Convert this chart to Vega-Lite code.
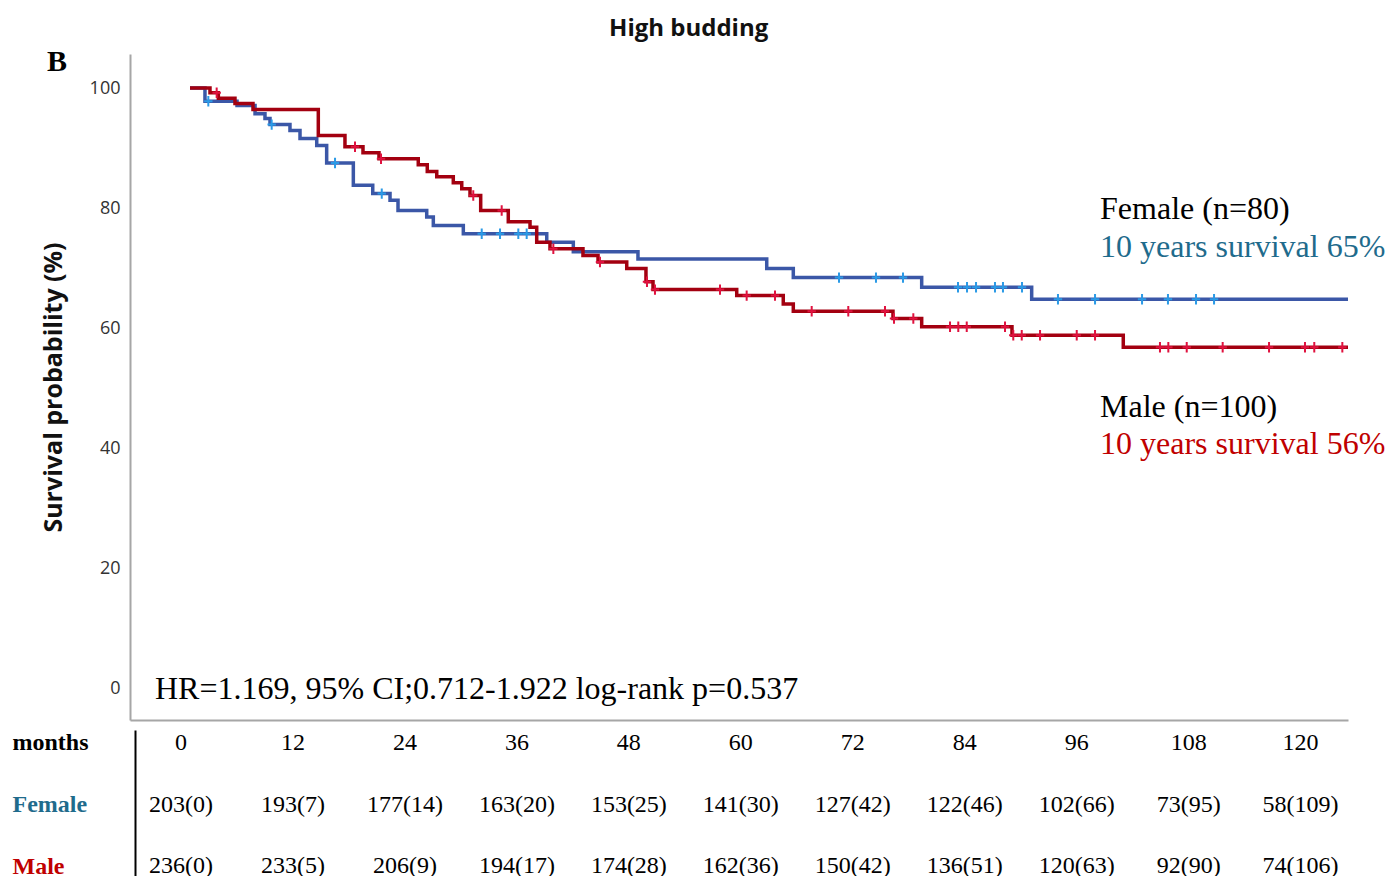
{
  "$schema": "https://vega.github.io/schema/vega-lite/v6.json",
  "background": "white",
  "padding": {"left": 12, "top": 17, "right": 5, "bottom": 0},
  "title": {
    "text": "High budding",
    "font": "Open Sans",
    "fontSize": 24,
    "fontWeight": "bold",
    "color": "#111111",
    "anchor": "middle",
    "dx": -10,
    "offset": 6
  },
  "datasets": {
    "km": [
      {"sex": "Female", "month": 0, "surv": 100},
      {"sex": "Female", "month": 1.61, "surv": 97.8},
      {"sex": "Female", "month": 5.06, "surv": 97.1},
      {"sex": "Female", "month": 7.0, "surv": 95.7},
      {"sex": "Female", "month": 8.07, "surv": 94.9},
      {"sex": "Female", "month": 8.61, "surv": 93.9},
      {"sex": "Female", "month": 10.76, "surv": 92.9},
      {"sex": "Female", "month": 11.84, "surv": 91.6},
      {"sex": "Female", "month": 13.64, "surv": 90.4},
      {"sex": "Female", "month": 14.71, "surv": 87.5},
      {"sex": "Female", "month": 17.58, "surv": 83.8},
      {"sex": "Female", "month": 19.67, "surv": 82.4},
      {"sex": "Female", "month": 21.53, "surv": 81.3},
      {"sex": "Female", "month": 22.39, "surv": 79.6},
      {"sex": "Female", "month": 25.48, "surv": 78.5},
      {"sex": "Female", "month": 26.19, "surv": 77.1},
      {"sex": "Female", "month": 29.42, "surv": 75.7},
      {"sex": "Female", "month": 38.4, "surv": 74.3},
      {"sex": "Female", "month": 41.26, "surv": 72.7},
      {"sex": "Female", "month": 48.22, "surv": 71.5},
      {"sex": "Female", "month": 62.08, "surv": 69.9},
      {"sex": "Female", "month": 64.94, "surv": 68.4},
      {"sex": "Female", "month": 78.76, "surv": 66.8},
      {"sex": "Female", "month": 90.6, "surv": 64.8},
      {"sex": "Female", "month": 124.65, "surv": 64.8},
      {"sex": "Male", "month": 0, "surv": 100},
      {"sex": "Male", "month": 2.15, "surv": 99.2},
      {"sex": "Male", "month": 3.05, "surv": 98.3},
      {"sex": "Male", "month": 4.84, "surv": 97.4},
      {"sex": "Male", "month": 6.78, "surv": 96.4},
      {"sex": "Male", "month": 13.81, "surv": 92.1},
      {"sex": "Male", "month": 16.68, "surv": 90.2},
      {"sex": "Male", "month": 18.62, "surv": 89.2},
      {"sex": "Male", "month": 20.34, "surv": 88.2},
      {"sex": "Male", "month": 24.57, "surv": 87.2},
      {"sex": "Male", "month": 25.54, "surv": 86.1},
      {"sex": "Male", "month": 26.56, "surv": 85.2},
      {"sex": "Male", "month": 28.34, "surv": 84.2},
      {"sex": "Male", "month": 29.25, "surv": 83.2},
      {"sex": "Male", "month": 30.14, "surv": 82.1},
      {"sex": "Male", "month": 31.29, "surv": 79.6},
      {"sex": "Male", "month": 34.26, "surv": 77.7},
      {"sex": "Male", "month": 36.6, "surv": 76.8},
      {"sex": "Male", "month": 37.32, "surv": 74.3},
      {"sex": "Male", "month": 38.75, "surv": 73.2},
      {"sex": "Male", "month": 42.3, "surv": 72.1},
      {"sex": "Male", "month": 43.92, "surv": 71.0},
      {"sex": "Male", "month": 47.01, "surv": 69.9},
      {"sex": "Male", "month": 49.08, "surv": 67.7},
      {"sex": "Male", "month": 49.84, "surv": 66.4},
      {"sex": "Male", "month": 58.85, "surv": 65.4},
      {"sex": "Male", "month": 63.86, "surv": 64.0},
      {"sex": "Male", "month": 64.94, "surv": 62.8},
      {"sex": "Male", "month": 75.67, "surv": 61.6},
      {"sex": "Male", "month": 78.76, "surv": 60.2},
      {"sex": "Male", "month": 88.48, "surv": 58.8},
      {"sex": "Male", "month": 100.46, "surv": 56.8},
      {"sex": "Male", "month": 124.65, "surv": 56.8}
    ],
    "censor": [
      {"sex": "Female", "month": 1.97, "surv": 97.8},
      {"sex": "Female", "month": 8.79, "surv": 93.9},
      {"sex": "Female", "month": 15.61, "surv": 87.5},
      {"sex": "Female", "month": 20.64, "surv": 82.4},
      {"sex": "Female", "month": 31.4, "surv": 75.7},
      {"sex": "Female", "month": 33.37, "surv": 75.7},
      {"sex": "Female", "month": 35.34, "surv": 75.7},
      {"sex": "Female", "month": 36.24, "surv": 75.7},
      {"sex": "Female", "month": 69.86, "surv": 68.4},
      {"sex": "Female", "month": 73.84, "surv": 68.4},
      {"sex": "Female", "month": 76.75, "surv": 68.4},
      {"sex": "Female", "month": 82.67, "surv": 66.8},
      {"sex": "Female", "month": 83.64, "surv": 66.8},
      {"sex": "Female", "month": 84.61, "surv": 66.8},
      {"sex": "Female", "month": 86.65, "surv": 66.8},
      {"sex": "Female", "month": 87.51, "surv": 66.8},
      {"sex": "Female", "month": 89.56, "surv": 66.8},
      {"sex": "Female", "month": 93.43, "surv": 64.8},
      {"sex": "Female", "month": 97.42, "surv": 64.8},
      {"sex": "Female", "month": 102.48, "surv": 64.8},
      {"sex": "Female", "month": 105.27, "surv": 64.8},
      {"sex": "Female", "month": 108.29, "surv": 64.8},
      {"sex": "Female", "month": 110.23, "surv": 64.8},
      {"sex": "Male", "month": 2.87, "surv": 99.2},
      {"sex": "Male", "month": 17.76, "surv": 90.2},
      {"sex": "Male", "month": 20.56, "surv": 88.2},
      {"sex": "Male", "month": 30.49, "surv": 82.1},
      {"sex": "Male", "month": 33.55, "surv": 79.6},
      {"sex": "Male", "month": 39.11, "surv": 73.2},
      {"sex": "Male", "month": 44.13, "surv": 71.0},
      {"sex": "Male", "month": 49.19, "surv": 67.7},
      {"sex": "Male", "month": 50.05, "surv": 66.4},
      {"sex": "Male", "month": 57.05, "surv": 66.4},
      {"sex": "Male", "month": 59.92, "surv": 65.4},
      {"sex": "Male", "month": 62.97, "surv": 65.4},
      {"sex": "Male", "month": 66.92, "surv": 62.8},
      {"sex": "Male", "month": 70.86, "surv": 62.8},
      {"sex": "Male", "month": 74.81, "surv": 62.8},
      {"sex": "Male", "month": 75.78, "surv": 61.6},
      {"sex": "Male", "month": 77.86, "surv": 61.6},
      {"sex": "Male", "month": 81.81, "surv": 60.2},
      {"sex": "Male", "month": 82.7, "surv": 60.2},
      {"sex": "Male", "month": 83.61, "surv": 60.2},
      {"sex": "Male", "month": 87.73, "surv": 60.2},
      {"sex": "Male", "month": 88.62, "surv": 58.8},
      {"sex": "Male", "month": 89.53, "surv": 58.8},
      {"sex": "Male", "month": 91.5, "surv": 58.8},
      {"sex": "Male", "month": 95.45, "surv": 58.8},
      {"sex": "Male", "month": 97.42, "surv": 58.8},
      {"sex": "Male", "month": 104.41, "surv": 56.8},
      {"sex": "Male", "month": 105.31, "surv": 56.8},
      {"sex": "Male", "month": 107.29, "surv": 56.8},
      {"sex": "Male", "month": 111.16, "surv": 56.8},
      {"sex": "Male", "month": 116.15, "surv": 56.8},
      {"sex": "Male", "month": 120.02, "surv": 56.8},
      {"sex": "Male", "month": 121.02, "surv": 56.8},
      {"sex": "Male", "month": 124.04, "surv": 56.8}
    ],
    "notes": [
      {"note": "Female (n=80)", "kind": "head", "month": 97.96, "surv": 79.83},
      {"note": "10 years survival 65%", "kind": "Female", "month": 97.96, "surv": 73.5},
      {"note": "Male (n=100)", "kind": "head", "month": 97.96, "surv": 46.83},
      {"note": "10 years survival 56%", "kind": "Male", "month": 97.96, "surv": 40.67},
      {"note": "HR=1.169, 95% CI;0.712-1.922 log-rank p=0.537", "kind": "head", "month": -3.77, "surv": -0.17}
    ],
    "risk": [
      {"row": "months", "month": 0, "count": "0"},
      {"row": "months", "month": 12, "count": "12"},
      {"row": "months", "month": 24, "count": "24"},
      {"row": "months", "month": 36, "count": "36"},
      {"row": "months", "month": 48, "count": "48"},
      {"row": "months", "month": 60, "count": "60"},
      {"row": "months", "month": 72, "count": "72"},
      {"row": "months", "month": 84, "count": "84"},
      {"row": "months", "month": 96, "count": "96"},
      {"row": "months", "month": 108, "count": "108"},
      {"row": "months", "month": 120, "count": "120"},
      {"row": "Female", "month": 0, "count": "203(0)"},
      {"row": "Female", "month": 12, "count": "193(7)"},
      {"row": "Female", "month": 24, "count": "177(14)"},
      {"row": "Female", "month": 36, "count": "163(20)"},
      {"row": "Female", "month": 48, "count": "153(25)"},
      {"row": "Female", "month": 60, "count": "141(30)"},
      {"row": "Female", "month": 72, "count": "127(42)"},
      {"row": "Female", "month": 84, "count": "122(46)"},
      {"row": "Female", "month": 96, "count": "102(66)"},
      {"row": "Female", "month": 108, "count": "73(95)"},
      {"row": "Female", "month": 120, "count": "58(109)"},
      {"row": "Male", "month": 0, "count": "236(0)"},
      {"row": "Male", "month": 12, "count": "233(5)"},
      {"row": "Male", "month": 24, "count": "206(9)"},
      {"row": "Male", "month": 36, "count": "194(17)"},
      {"row": "Male", "month": 48, "count": "174(28)"},
      {"row": "Male", "month": 60, "count": "162(36)"},
      {"row": "Male", "month": 72, "count": "150(42)"},
      {"row": "Male", "month": 84, "count": "136(51)"},
      {"row": "Male", "month": 96, "count": "120(63)"},
      {"row": "Male", "month": 108, "count": "92(90)"},
      {"row": "Male", "month": 120, "count": "74(106)"}
    ]
  },
  "resolve": {"scale": {"x": "independent", "y": "independent"}},
  "spacing": 10,
  "vconcat": [
    {
      "width": 1218,
      "height": 666,
      "layer": [
        {
          "data": {"name": "km"},
          "mark": {"type": "line", "interpolate": "step-after", "strokeWidth": 3.5},
          "encoding": {
            "x": {
              "field": "month",
              "type": "quantitative",
              "scale": {"domain": [-6.46, 124.65], "nice": false, "zero": false},
              "axis": {"labels": false, "ticks": false, "grid": false, "title": null, "domainColor": "#a6a6a6", "domainWidth": 2}
            },
            "y": {
              "field": "surv",
              "type": "quantitative",
              "scale": {"domain": [-5.33, 105.67], "nice": false, "zero": false},
              "axis": {
                "values": [0, 20, 40, 60, 80, 100],
                "grid": false,
                "ticks": false,
                "domainColor": "#a6a6a6",
                "domainWidth": 2,
                "labelFont": "Open Sans",
                "labelFontSize": 18,
                "labelColor": "#333333",
                "labelPadding": 10,
                "title": "Survival probability (%)",
                "titleFont": "Open Sans",
                "titleFontSize": 25,
                "titleFontWeight": "bold",
                "titleColor": "#111111",
                "titlePadding": 23
              }
            },
            "color": {
              "field": "sex",
              "type": "nominal",
              "scale": {"domain": ["Female", "Male"], "range": ["#3b57a7", "#a30010"]},
              "legend": null
            }
          }
        },
        {
          "data": {"name": "censor"},
          "mark": {"type": "point", "shape": "M0,-1V1M-0.8,0H0.8", "filled": false, "strokeWidth": 2, "size": 110, "opacity": 1},
          "encoding": {
            "x": {"field": "month", "type": "quantitative"},
            "y": {"field": "surv", "type": "quantitative"},
            "stroke": {
              "field": "sex",
              "type": "nominal",
              "scale": {"domain": ["Female", "Male"], "range": ["#2b9ae6", "#e0123f"]},
              "legend": null
            }
          }
        },
        {
          "data": {"name": "notes"},
          "mark": {"type": "text", "font": "Liberation Serif", "fontSize": 32, "align": "left", "baseline": "middle"},
          "encoding": {
            "x": {"field": "month", "type": "quantitative"},
            "y": {"field": "surv", "type": "quantitative"},
            "text": {"field": "note"},
            "fill": {
              "field": "kind",
              "type": "nominal",
              "scale": {"domain": ["head", "Female", "Male"], "range": ["#000000", "#1f6b8c", "#c00000"]},
              "legend": null
            }
          }
        },
        {
          "data": {"values": [{"panel": "B", "month": -15.39, "surv": 104.33}]},
          "mark": {"type": "text", "font": "Liberation Serif", "fontSize": 30, "fontWeight": "bold", "align": "left", "baseline": "middle", "color": "#000000"},
          "encoding": {
            "x": {"field": "month", "type": "quantitative"},
            "y": {"field": "surv", "type": "quantitative"},
            "text": {"field": "panel"}
          }
        }
      ]
    },
    {
      "width": 1218,
      "height": 149,
      "data": {"name": "risk"},
      "mark": {"type": "text", "font": "Liberation Serif", "fontSize": 24, "align": "center", "baseline": "middle", "color": "#000000"},
      "encoding": {
        "x": {
          "field": "month",
          "type": "quantitative",
          "scale": {"domain": [-5.47, 125.08], "nice": false, "zero": false},
          "axis": null
        },
        "y": {
          "field": "row",
          "type": "nominal",
          "scale": {"type": "point", "domain": ["months", "Female", "Male"], "padding": 0.21},
          "axis": {
            "title": null,
            "domain": true,
            "domainColor": "#000000",
            "domainWidth": 2,
            "ticks": false,
            "tickSize": 0,
            "offset": -5,
            "labelAlign": "left",
            "labelBaseline": "middle",
            "labelPadding": 123,
            "labelFont": "Liberation Serif",
            "labelFontWeight": "bold",
            "labelFontSize": 24,
            "labelColor": {"expr": "datum.value === 'Female' ? '#1f6b8c' : datum.value === 'Male' ? '#c00000' : '#000000'"}
          }
        },
        "text": {"field": "count"}
      }
    }
  ],
  "config": {"view": {"stroke": null}}
}
